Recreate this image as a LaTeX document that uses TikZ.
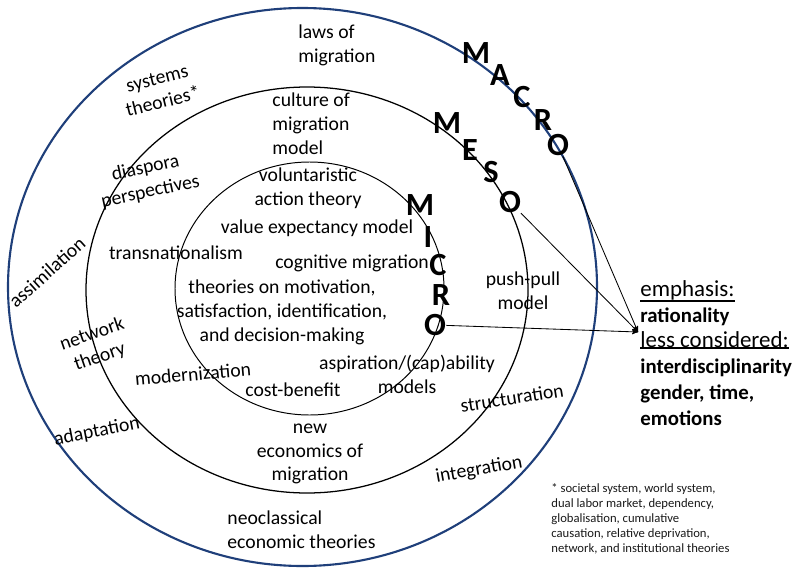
\documentclass[tikz,border=0pt]{standalone}
\usepackage{fontspec}
\setmainfont{Carlito}
\usepackage{tikz}
\usetikzlibrary{arrows,positioning}
\definecolor{macroblue}{HTML}{1F3F7A}
\newcommand{\thickul}[1]{\setbox0\hbox{#1}\leavevmode\rlap{\rule[-\dimexpr\dp0+1.4pt\relax]{\wd0}{1.2pt}}\box0}

\begin{document}
\begin{tikzpicture}[x=0.025cm, y=-0.025cm, ->, >=stealth', semithick]

\tikzstyle{theory}=[font=\fontsize{14}{17}\selectfont, align=center, inner sep=0pt]
\tikzstyle{letter}=[font=\fontsize{23}{23}\selectfont\bfseries, inner sep=0pt]
\tikzstyle{note}=[font=\fontsize{16.3}{18}\selectfont, anchor=base west, inner sep=0pt]
\tikzstyle{keynote}=[note, font=\fontsize{14.8}{18}\selectfont\bfseries]

\useasboundingbox (0,0) rectangle (800,577);

% the three levels
\draw[-, macroblue, line width=1.5pt] (302.5,287) ellipse [x radius=294.5, y radius=279];
\draw[-, line width=0.9pt] (307,290) ellipse [x radius=221, y radius=203];
\draw[-, line width=0.7pt] (309.5,288.5) ellipse [x radius=134.5, y radius=126.5];

% level names
\node[letter] (maM) at (476,53) {M};
\node[letter] (maA) at (500,75) {A};
\node[letter] (maC) at (522,97) {C};
\node[letter] (maR) at (543,120) {R};
\node[letter] (maO) at (558,145) {O};

\node[letter] (meM) at (447,123) {M};
\node[letter] (meE) at (470,150) {E};
\node[letter] (meS) at (491,172) {S};
\node[letter] (meO) at (510,202) {O};

\node[letter] (miM) at (420,205) {M};
\node[letter] (miI) at (428,237) {I};
\node[letter] (miC) at (438,265) {C};
\node[letter] (miR) at (441,295) {R};
\node[letter] (miO) at (435,325) {O};

% macro theories
\node[theory, anchor=west, align=left] (laws) at (298,45) {laws of\\migration};
\node[theory, rotate=14] (systems) at (160,90) {systems\\theories*};
\node[theory, rotate=42] (assim) at (47,272) {assimilation};
\node[theory, rotate=19] (network) at (96,346) {network\\theory};
\node[theory, rotate=11] (adapt) at (97,432) {adaptation};
\node[theory, anchor=west, align=left] (neo) at (227,530) {neoclassical\\economic theories};
\node[theory, rotate=10] (integ) at (479,470) {integration};

% meso theories
\node[theory, anchor=west, align=left] (culture) at (272,124) {culture of\\migration\\model};
\node[theory, rotate=12] (diaspora) at (148,180) {diaspora\\perspectives};
\node[theory] (transnat) at (176,253) {transnationalism};
\node[theory, rotate=5] (modern) at (193,374) {modernization};
\node[theory] (neweco) at (310,454) {new\\economics of\\migration};
\node[theory, rotate=9] (struct) at (512,398) {structuration};
\node[theory] (pushpull) at (523,291) {push-pull\\model};

% micro theories
\node[theory] (volunt) at (308,188) {voluntaristic\\action theory};
\node[theory] (value) at (317,228) {value expectancy model};
\node[theory] (cognit) at (352,263) {cognitive migration};
\node[theory] (motiv) at (282,312) {theories on motivation,\\satisfaction, identification,\\and decision-making};
\node[theory] (aspir) at (407,374) {aspiration/(cap)ability\\models};
\node[theory] (cost) at (293,390) {cost-benefit};

% emphasis
\coordinate (focus) at (638,332);
\node[note] (emph) at (640,296) {\thickul{emphasis:}};
\node[keynote] (ratio) at (640,322) {rationality};
\node[note] (less) at (640,347) {\thickul{less considered:}};
\node[keynote] (inter) at (640,373) {interdisciplinarity};
\node[keynote] (gender) at (640,399) {gender, time,};
\node[keynote] (emot) at (640,425) {emotions};

\path
(maO) edge (focus)
(meO) edge (focus)
(miO) edge (focus);

% footnote
\node[font=\fontsize{9}{10.6}\selectfont, align=left, anchor=north west, inner sep=0pt, text=black!90] (foot) at (551,483) {* societal system, world system,\\dual labor market, dependency,\\globalisation, cumulative\\causation, relative deprivation,\\network, and institutional theories};

\end{tikzpicture}
\end{document}
